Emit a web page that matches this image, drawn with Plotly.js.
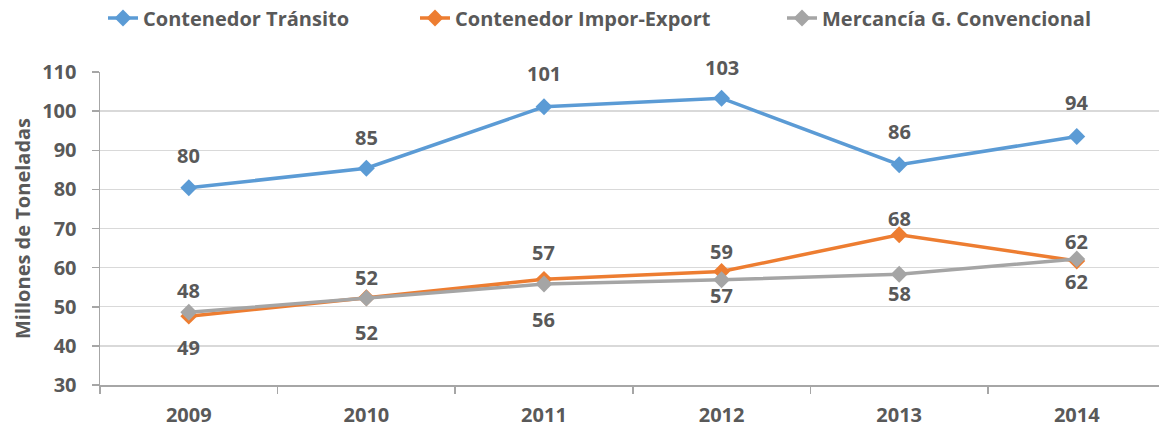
<!DOCTYPE html>
<html>
<head>
<meta charset="utf-8">
<script src="https://cdn.plot.ly/plotly-3.0.1.min.js"></script>
<style>html,body{margin:0;padding:0;background:#fff;}#chart{width:1159px;height:428px;}</style>
</head>
<body>
<div id="chart"></div>
<script>
// ---- data ----
const years = ["2009", "2010", "2011", "2012", "2013", "2014"];
const seriesNames = ["Contenedor Tránsito", "Contenedor Impor-Export", "Mercancía G. Convencional"];
const transito = [80.4, 85.4, 101.1, 103.3, 86.3, 93.5];
const imporExport = [47.6, 52.3, 57.0, 59.0, 68.4, 61.7];
const convencional = [48.6, 52.2, 55.8, 56.9, 58.3, 62.2];
const yTickVals = [30, 40, 50, 60, 70, 80, 90, 100, 110];

// ---- style ----
const FONT = "'Open Sans', sans-serif";
const TXT = "#595959";
const AXIS = "#a6a6a6";
const colors = ["#5B9BD5", "#ED7D31", "#A5A5A5"];
// label pixel offsets (negative = above the marker), per series per point
const labelShift = [
  [-32, -31, -33, -31, -33, -34],
  [-26, -20, -27, -20, -16, -19],
  [35, 34, 35, 16, 19, 22]
];
const legendIds = ["legend", "legend2", "legend3"];
const legendX = [103, 415, 782]; // px in container

const allSeries = [transito, imporExport, convencional];
const traces = allSeries.map((vals, i) => ({
  type: "scatter",
  mode: "lines+markers",
  name: seriesNames[i],
  legend: legendIds[i],
  x: years,
  y: vals,
  line: {color: colors[i], width: 3.5},
  marker: {symbol: "diamond", size: 13, color: colors[i]},
  cliponaxis: false
}));

const annotations = [];
allSeries.forEach((vals, i) => {
  vals.forEach((v, j) => {
    annotations.push({
      x: j, y: v, xref: "x", yref: "y",   // j = category index of years[j]
      text: String(Math.round(v)),
      showarrow: false,
      yshift: -labelShift[i][j],
      font: {family: FONT, size: 20, color: TXT, weight: 700}
    });
  });
});

const layout = {
  width: 1159, height: 428,
  margin: {l: 100, r: 0, t: 72, b: 43},
  paper_bgcolor: "#fff", plot_bgcolor: "#fff",
  font: {family: FONT, color: TXT, size: 20, weight: 700},
  showlegend: true,
  xaxis: {
    type: "category",
    range: [-0.5, 5.463],
    showgrid: false,
    showline: true, linecolor: AXIS, linewidth: 1.5,
    ticks: "outside", tickson: "boundaries", ticklen: 7, tickcolor: AXIS, tickwidth: 1.5,
    ticklabelstandoff: 11,
    tickfont: {family: FONT, size: 20, color: TXT, weight: 700},
    zeroline: false
  },
  yaxis: {
    range: [30, 110],
    tickvals: yTickVals,
    showgrid: true, gridcolor: "#d9d9d9", gridwidth: 1.3,
    showline: true, linecolor: AXIS, linewidth: 1.5,
    ticks: "outside", ticklen: 7, tickcolor: AXIS, tickwidth: 1.5,
    ticklabelstandoff: 11,
    tickfont: {family: FONT, size: 20, color: TXT, weight: 700},
    zeroline: false,
    title: {text: "Millones de Toneladas", font: {family: FONT, size: 20, color: TXT, weight: 700}, standoff: 6}
  },
  annotations: annotations
};
legendIds.forEach((id, i) => {
  layout[id] = {
    orientation: "h",
    xref: "container", yref: "container",
    x: legendX[i] / 1159, y: 1 - 18 / 428, xanchor: "left", yanchor: "middle",
    font: {family: FONT, size: 20, color: TXT, weight: 700},
    bgcolor: "rgba(0,0,0,0)"
  };
});

Plotly.newPlot("chart", traces, layout, {displayModeBar: false, staticPlot: true});
</script>
</body>
</html>
